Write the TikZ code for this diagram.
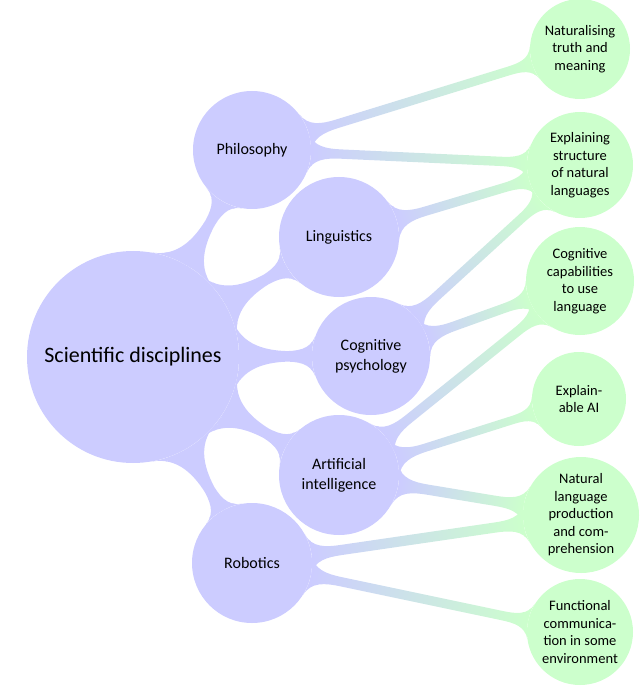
\documentclass[tikz,border=0pt]{standalone}
\usepackage{fontspec}
\setmainfont{Carlito}
\usetikzlibrary{mindmap}
\definecolor{purp}{HTML}{CCCCFF}
\definecolor{leafc}{HTML}{CCFFCC}
\pgfdeclarelayer{background}
\pgfsetlayers{background,main}
\tikzset{
  rootnode/.style={circle, fill=purp, inner sep=0pt, align=center, font=\fontsize{22}{26}\selectfont},
  discnode/.style={circle, fill=purp, inner sep=0pt, align=center, font=\fontsize{16}{20}\selectfont},
  leafnode/.style={circle, fill=leafc, inner sep=0pt, align=center, font=\fontsize{14.5}{17.5}\selectfont},
  rootbar/.style={circle connection bar switch color=from (purp) to (purp), line width=40pt},
  leafbar/.style={circle connection bar switch color=from (purp) to (leafc), line width=8pt},
}
\begin{document}
\begin{tikzpicture}[x=1pt,y=-1pt]
\useasboundingbox (0,0) rectangle (640,700);
\node[rootnode, minimum size=212pt] (root) at (133,357) {Scientific disciplines};
\node[discnode, minimum size=118pt] (phil) at (252,150) {Philosophy};
\node[discnode, minimum size=120pt] (ling) at (339,237) {Linguistics};
\node[discnode, minimum size=118pt] (cog) at (371,356) {Cognitive\\psychology};
\node[discnode, minimum size=120pt] (ai) at (339,475) {Artificial\\intelligence};
\node[discnode, minimum size=120pt] (rob) at (252,563) {Robotics};
\node[leafnode, minimum size=100pt] (n1) at (580,49) {Naturalising\\truth and\\meaning};
\node[leafnode, minimum size=106pt] (n2) at (580,165) {Explaining\\structure\\of natural\\languages};
\node[leafnode, minimum size=108pt] (n3) at (580,281) {Cognitive\\capabilities\\to use\\language};
\node[leafnode, minimum size=94pt] (n4) at (579,399) {Explain-\\able AI};
\node[leafnode, minimum size=116pt] (n5) at (581,515) {Natural\\language\\production\\and com-\\prehension};
\node[leafnode, minimum size=106pt] (n6) at (580,632) {Functional\\communica-\\tion in some\\environment};
\begin{pgfonlayer}{background}
\path (root) to[rootbar] (phil);
\path (root) to[rootbar] (ling);
\path (root) to[rootbar] (cog);
\path (root) to[rootbar] (ai);
\path (root) to[rootbar] (rob);
\path (phil) to[leafbar] (n1);
\path (phil) to[leafbar] (n2);
\path (ling) to[leafbar] (n2);
\path (cog) to[leafbar] (n2);
\path (cog) to[leafbar] (n3);
\path (ai) to[leafbar] (n3);
\path (ai) to[leafbar] (n4);
\path (ai) to[leafbar] (n5);
\path (rob) to[leafbar] (n5);
\path (rob) to[leafbar] (n6);
\end{pgfonlayer}
\end{tikzpicture}
\end{document}
